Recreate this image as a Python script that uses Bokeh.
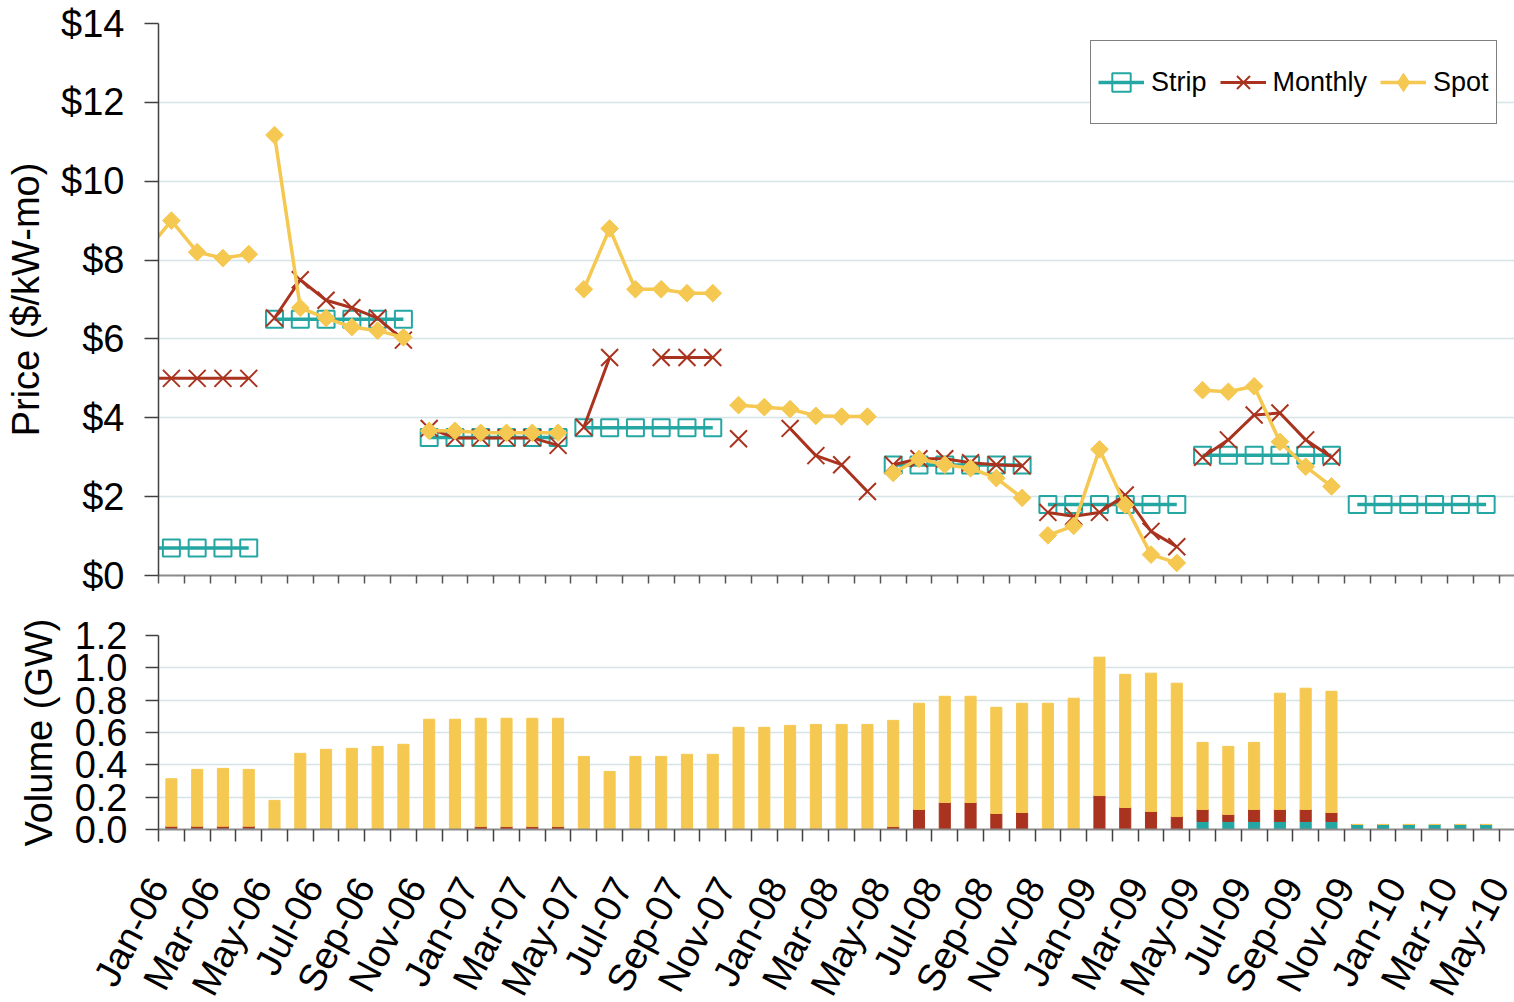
import numpy as np
from bokeh.plotting import figure
from bokeh.layouts import column
from bokeh.models import (ColumnDataSource, FixedTicker, PrintfTickFormatter,
                          NumeralTickFormatter, Legend, LegendItem, Range1d)
from bokeh.core.properties import value
from bokeh.embed import file_html
from bokeh.resources import INLINE

# ---------------- data ----------------
MON = ["Jan", "Feb", "Mar", "Apr", "May", "Jun", "Jul", "Aug", "Sep", "Oct", "Nov", "Dec"]
# months Dec-05 .. Apr-10 (53 entries); Dec-05 lies just left of the axis
months = [f"{MON[(11 + i) % 12]}-{5 + (11 + i) // 12:02d}" for i in range(53)]

tick_labels = ["Jan-06", "Mar-06", "May-06", "Jul-06", "Sep-06", "Nov-06",
               "Jan-07", "Mar-07", "May-07", "Jul-07", "Sep-07", "Nov-07",
               "Jan-08", "Mar-08", "May-08", "Jul-08", "Sep-08", "Nov-08",
               "Jan-09", "Mar-09", "May-09", "Jul-09", "Sep-09", "Nov-09",
               "Jan-10", "Mar-10", "May-10"]

N = None
strip_price = [0.7,
               0.7, 0.7, 0.7, 0.7,
               6.5, 6.5, 6.5, 6.5, 6.5, 6.5,
               3.5, 3.5, 3.5, 3.5, 3.5, 3.5,
               3.75, 3.75, 3.75, 3.75, 3.75, 3.75,
               N, N, N, N, N, N,
               2.8, 2.8, 2.8, 2.8, 2.8, 2.8,
               1.8, 1.8, 1.8, 1.8, 1.8, 1.8,
               3.05, 3.05, 3.05, 3.05, 3.05, 3.05,
               1.8, 1.8, 1.8, 1.8, 1.8, 1.8]
monthly_price = [5.0,
                 5.0, 5.0, 5.0, 5.0,
                 6.53, 7.5, 6.98, 6.79, 6.53, 5.97,
                 3.73, 3.49, 3.49, 3.49, 3.49, 3.3,
                 3.76, 5.53, N, 5.53, 5.53, 5.53,
                 3.47, N, 3.73, 3.04, 2.81, 2.13,
                 2.81, 2.96, 2.96, 2.86, 2.81, 2.78,
                 1.6, 1.5, 1.6, 2.04, 1.12, 0.73,
                 3.0, 3.44, 4.07, 4.12, 3.44, 3.0,
                 N, N, N, N, N, N]
spot_price = [8.2,
              9.0, 8.2, 8.05, 8.15,
              11.17, 6.79, 6.53, 6.3, 6.21, 6.04,
              3.67, 3.67, 3.62, 3.62, 3.62, 3.62,
              7.26, 8.8, 7.26, 7.26, 7.16, 7.16,
              4.32, 4.27, 4.22, 4.05, 4.03, 4.03,
              2.6, 2.96, 2.81, 2.72, 2.47, 1.97,
              1.02, 1.26, 3.2, 1.79, 0.53, 0.32,
              4.7, 4.66, 4.8, 3.39, 2.76, 2.26,
              N, N, N, N, N, N]

# volumes, Jan-06 .. Apr-10 (52 entries), GW
strip_vol = [0.008, 0.008, 0.008, 0.008,
             0, 0, 0, 0, 0, 0,
             0, 0, 0, 0, 0, 0,
             0, 0, 0, 0, 0, 0,
             0, 0, 0, 0, 0, 0,
             0, 0, 0, 0, 0, 0,
             0, 0, 0, 0, 0, 0,
             0.05, 0.05, 0.05, 0.05, 0.05, 0.05,
             0.031, 0.031, 0.031, 0.031, 0.031, 0.031]
monthly_vol = [0.012, 0.012, 0.012, 0.012,
               0.006, 0.006, 0.006, 0.006, 0.006, 0.006,
               0.006, 0.006, 0.018, 0.018, 0.018, 0.018,
               0, 0, 0, 0, 0, 0,
               0, 0, 0, 0.005, 0, 0,
               0.018, 0.124, 0.167, 0.167, 0.099, 0.105,
               0, 0.006, 0.21, 0.136, 0.112, 0.08,
               0.074, 0.043, 0.074, 0.074, 0.074, 0.055,
               0, 0, 0, 0, 0, 0]
spot_vol = [0.294, 0.352, 0.358, 0.352,
            0.174, 0.465, 0.49, 0.496, 0.508, 0.521,
            0.676, 0.676, 0.67, 0.67, 0.67, 0.67,
            0.452, 0.359, 0.452, 0.452, 0.465, 0.465,
            0.632, 0.632, 0.644, 0.645, 0.65, 0.65,
            0.657, 0.657, 0.657, 0.657, 0.657, 0.676,
            0.781, 0.806, 0.856, 0.824, 0.855, 0.825,
            0.415, 0.421, 0.415, 0.719, 0.75, 0.75,
            0, 0, 0, 0, 0, 0]

# ---------------- style ----------------
TEAL = "#24a7a3"
RED = "#a9331f"
YELLOW = "#f5c851"
GRID = "#d6e4e7"
FONT = "Liberation Sans"
FS = "38px"

W = 1514
LEFT = 158
X_END = 52.6
PX_PER_MONTH = (W - LEFT) / X_END

month_x = [i - 0.5 for i in range(len(months))]        # Dec-05 at -0.5, Jan-06 at 0.5
season = [(i - 5) // 6 for i in range(len(months))]    # May-Oct / Nov-Apr capability periods


def segmented(vals):
    xs, ys = [], []
    for i, v in enumerate(vals):
        if i > 0 and season[i] != season[i - 1]:
            xs.append(np.nan)
            ys.append(np.nan)
        xs.append(month_x[i])
        ys.append(np.nan if v is None else v)
    return xs, ys


def pts(vals):
    return ([month_x[i] for i in range(1, len(vals))],
            [np.nan if v is None else v for v in vals[1:]])


XR = Range1d(0, X_END)

# ---------------- price chart ----------------
p1 = figure(width=W, height=600, x_range=XR, y_range=Range1d(0, 14),
            output_backend="svg", toolbar_location=None,
            min_border_left=LEFT, min_border_right=0, min_border_top=23, min_border_bottom=25)
p1.outline_line_color = None
p1.background_fill_color = "white"
p1.xgrid.visible = False
p1.ygrid.grid_line_color = GRID
p1.ygrid.grid_line_width = 1.5
p1.ygrid.ticker = FixedTicker(ticks=list(range(0, 15, 2)))

ya = p1.yaxis[0]
ya.ticker = FixedTicker(ticks=list(range(0, 15, 2)), minor_ticks=[])
ya.formatter = PrintfTickFormatter(format="$%d")
ya.major_label_text_font = FONT
ya.major_label_text_font_size = FS
ya.major_label_text_color = "black"
ya.major_tick_out = 14
ya.major_tick_in = 0
ya.major_tick_line_color = "#404040"
ya.major_tick_line_width = 1.5
ya.axis_line_color = "#404040"
ya.axis_line_width = 1.5
ya.major_label_standoff = 20
ya.axis_label = "Price ($/kW-mo)"
ya.axis_label_text_font = FONT
ya.axis_label_text_font_size = FS
ya.axis_label_text_font_style = "normal"
ya.axis_label_text_color = "black"
ya.axis_label_standoff = 11

xa = p1.xaxis[0]
xa.ticker = FixedTicker(ticks=[], minor_ticks=list(range(0, 53)))
xa.major_tick_out = 0
xa.major_tick_in = 0
xa.minor_tick_out = 8
xa.minor_tick_in = 0
xa.minor_tick_line_color = "#555555"
xa.minor_tick_line_width = 1.5
xa.axis_line_color = "#8a8a8a"
xa.axis_line_width = 2

sx, sy = segmented(strip_price)
mx, my = segmented(monthly_price)
px, py = segmented(spot_price)

r_sl = p1.line(sx, sy, line_color=TEAL, line_width=3.5)
psx, psy = pts(strip_price)
r_sm = p1.scatter(psx, psy, marker="square", size=17, line_color=TEAL, line_width=2,
                  fill_color=None)
r_ml = p1.line(mx, my, line_color=RED, line_width=3)
pmx, pmy = pts(monthly_price)
r_mm = p1.scatter(pmx, pmy, marker="x", size=24, line_color=RED, line_width=2)
r_pl = p1.line(px, py, line_color=YELLOW, line_width=3.5)
ppx, ppy = pts(spot_price)
r_pm = p1.scatter(ppx, ppy, marker="square", angle=np.pi / 4, size=12.5,
                  line_color=YELLOW, fill_color=YELLOW)
# legend-only diamond (lies outside the visible range)
r_pkey = p1.scatter([-10], [-10], marker="diamond", line_color=YELLOW, fill_color=YELLOW)

legend = Legend(items=[LegendItem(label="Strip", renderers=[r_sl, r_sm]),
                       LegendItem(label="Monthly", renderers=[r_ml, r_mm]),
                       LegendItem(label="Spot", renderers=[r_pl, r_pkey])],
                orientation="horizontal", location=(932, 451))
legend.label_text_font = FONT
legend.label_text_font_size = "27px"
legend.label_text_color = "black"
legend.glyph_width = 46
legend.glyph_height = 68
legend.padding = 7
legend.spacing = 13
legend.label_standoff = 7
legend.border_line_color = "black"
legend.border_line_width = 1.5
legend.background_fill_color = "white"
legend.background_fill_alpha = 1
p1.add_layout(legend)

# ---------------- volume chart ----------------
src = ColumnDataSource(dict(x=[k + 0.5 for k in range(len(spot_vol))],
                            strip=strip_vol, monthly=monthly_vol, spot=spot_vol))
H2 = 35 + 194 + 25
p2 = figure(width=W, height=H2, x_range=XR, y_range=Range1d(0, 1.2),
            output_backend="svg", toolbar_location=None,
            min_border_left=LEFT, min_border_right=0, min_border_top=35, min_border_bottom=25)
p2.outline_line_color = None
p2.xgrid.visible = False
p2.ygrid.grid_line_color = GRID
p2.ygrid.grid_line_width = 1.5
vt = [0, 0.2, 0.4, 0.6, 0.8, 1.0, 1.2]
p2.ygrid.ticker = FixedTicker(ticks=vt)
p2.vbar_stack(["strip", "monthly", "spot"], x="x", width=0.43, source=src,
              color=[TEAL, RED, YELLOW])

ya2 = p2.yaxis[0]
ya2.ticker = FixedTicker(ticks=vt, minor_ticks=[])
ya2.formatter = NumeralTickFormatter(format="0.0")
ya2.major_label_text_font = FONT
ya2.major_label_text_font_size = FS
ya2.major_label_text_color = "black"
ya2.major_tick_out = 13
ya2.major_tick_in = 0
ya2.major_tick_line_color = "#404040"
ya2.major_tick_line_width = 1.5
ya2.axis_line_color = "#404040"
ya2.axis_line_width = 1.5
ya2.major_label_standoff = 18
ya2.axis_label = "Volume (GW)"
ya2.axis_label_text_font = FONT
ya2.axis_label_text_font_size = FS
ya2.axis_label_text_font_style = "normal"
ya2.axis_label_text_color = "black"
ya2.axis_label_standoff = 12

xa2 = p2.xaxis[0]
xa2.ticker = FixedTicker(ticks=[], minor_ticks=list(range(0, 53)))
xa2.major_tick_out = 0
xa2.major_tick_in = 0
xa2.minor_tick_out = 12
xa2.minor_tick_in = 0
xa2.minor_tick_line_color = "#404040"
xa2.minor_tick_line_width = 1.5
xa2.axis_line_color = "#8a8a8a"
xa2.axis_line_width = 2

# ---------------- month labels strip (same month scale, frame spans full width) ----------------
H3 = 1002 - 600 - H2
LABEL_Y = 880                     # page y of the label anchors
p3 = figure(width=W, height=H3,
            x_range=Range1d(-LEFT / PX_PER_MONTH, X_END), y_range=Range1d(0, H3),
            output_backend="svg", toolbar_location=None,
            x_axis_location=None, y_axis_location=None,
            min_border_left=0, min_border_right=0, min_border_top=0, min_border_bottom=0)
p3.grid.visible = False
p3.outline_line_color = None
lab_src = ColumnDataSource(dict(x=[2 * j for j in range(len(tick_labels))],
                                y=[H3 - (LABEL_Y - (600 + H2))] * len(tick_labels),
                                text=tick_labels))
p3.text(x="x", y="y", text="text", source=lab_src,
        angle=np.deg2rad(62), text_align="right", text_baseline="middle",
        text_font=value(FONT), text_font_size=value(FS), text_color="black")

# nest the two charts so the label strip is not frame-aligned with them
layout = column(column(p1, p2, spacing=0), p3, spacing=0)
open("out.html", "w").write(file_html(layout, INLINE))
